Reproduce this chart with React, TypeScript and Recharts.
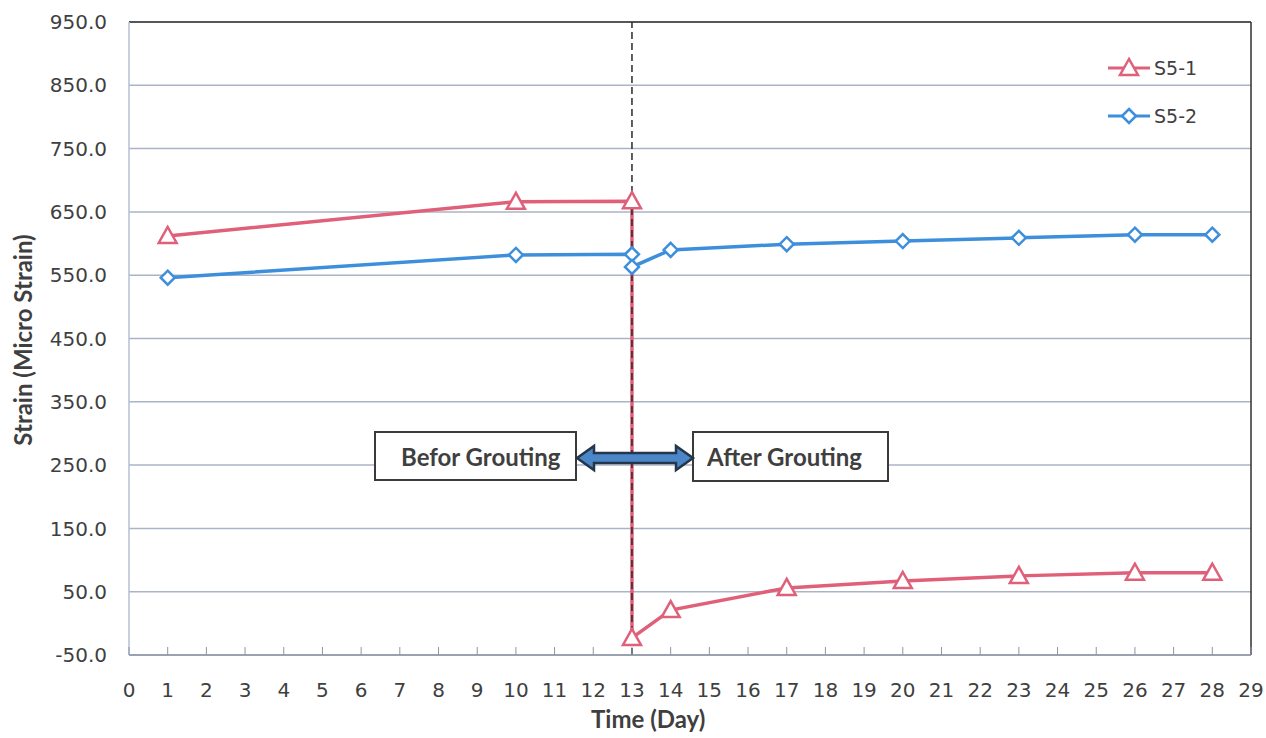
import { LineChart, Line, XAxis, YAxis, CartesianGrid, ReferenceLine } from "recharts";

const days = [1, 10, 13, 13, 14, 17, 20, 23, 26, 28];
const s51 = [612, 666, 667, -23, 21, 56, 67, 75, 80, 80];
const s52 = [546, 582, 583, 563, 590, 599, 604, 609, 614, 614];
const xTicks = Array.from({ length: 30 }, (_, i) => i);
const yTicks = [-50, 50, 150, 250, 350, 450, 550, 650, 750, 850, 950];

const data = days.map((d, i) => ({ day: d, s51: s51[i], s52: s52[i] }));

const RED = "#e0607a";
const BLUE = "#3d8fdc";
const TEXT = "#3f3f3f";
const GRID = "#aab4c6";

const Triangle = ({ cx, cy }: any) => (
  <polygon
    points={`${cx},${cy - 9} ${cx - 9},${cy + 7} ${cx + 9},${cy + 7}`}
    fill="#fff"
    stroke={RED}
    strokeWidth={2.5}
  />
);

const Diamond = ({ cx, cy }: any) => (
  <polygon
    points={`${cx},${cy - 7} ${cx + 7},${cy} ${cx},${cy + 7} ${cx - 7},${cy}`}
    fill="#fff"
    stroke={BLUE}
    strokeWidth={2.5}
  />
);

// x tick with an inward tick mark
const XTick = ({ x, y, payload }: any) => (
  <g>
    <line x1={x} x2={x} y1={y - 28} y2={y - 36} stroke="#8e96a6" strokeWidth={1} />
    <text x={x} y={y} dy="0.71em" textAnchor="middle" fill={TEXT} fontSize={20} fontFamily="DejaVu Sans">
      {payload.value}
    </text>
  </g>
);

const LegendBox = () => (
  <div style={{ position: "absolute", left: 1106, top: 44, fontFamily: "DejaVu Sans", fontSize: 19, color: TEXT }}>
    <div style={{ display: "flex", alignItems: "center", height: 48 }}>
      <svg width={46} height={22}>
        <line x1={2} x2={44} y1={11} y2={11} stroke={RED} strokeWidth={3} />
        <Triangle cx={23} cy={11} />
      </svg>
      <span style={{ marginLeft: 2 }}>S5-1</span>
    </div>
    <div style={{ display: "flex", alignItems: "center", height: 48 }}>
      <svg width={46} height={22}>
        <line x1={2} x2={44} y1={11} y2={11} stroke={BLUE} strokeWidth={3} />
        <Diamond cx={23} cy={11} />
      </svg>
      <span style={{ marginLeft: 2 }}>S5-2</span>
    </div>
  </div>
);

const boxStyle: any = {
  position: "absolute",
  border: "2px solid #3a3a3a",
  background: "#fff",
  fontFamily: "Lato",
  fontWeight: 700,
  fontSize: 24,
  color: TEXT,
  display: "flex",
  alignItems: "center",
  boxSizing: "border-box",
};

const titleStyle: any = {
  position: "absolute",
  fontFamily: "Lato",
  fontWeight: 700,
  fontSize: 24,
  color: TEXT,
  whiteSpace: "nowrap",
};

export default function App() {
  return (
    <div style={{ position: "fixed", left: 0, top: 0, width: 1266, height: 738, background: "#fff" }}>
      <LineChart width={1266} height={738} data={data} margin={{ top: 22, right: 15, left: 29, bottom: 43 }}>
        <CartesianGrid horizontal vertical={false} stroke={GRID} strokeWidth={1.5} />
        <XAxis
          dataKey="day"
          type="number"
          domain={[0, 29]}
          ticks={xTicks}
          interval={0}
          tickSize={0}
          tickMargin={28}
          tick={<XTick />}
          height={40}
          stroke="#8e96a6"
          strokeWidth={1.5}
        />
        <YAxis
          type="number"
          domain={[-50, 950]}
          ticks={yTicks}
          interval={0}
          width={100}
          tickLine={false}
          tickMargin={16}
          stroke="#b4bfd2"
          strokeWidth={1.5}
          tickFormatter={(v) => v.toFixed(1)}
          tick={{ fill: TEXT, fontSize: 20, fontFamily: "DejaVu Sans" }}
        />
        <ReferenceLine y={950} stroke="#303030" strokeWidth={1.5} />
        <ReferenceLine x={29} stroke="#303030" strokeWidth={1.5} />
        <Line
          dataKey="s51"
          stroke={RED}
          strokeWidth={3.5}
          isAnimationActive={false}
          dot={(p: any) => <Triangle key={`t${p.index}`} cx={p.cx} cy={p.cy} />}
        />
        <Line
          dataKey="s52"
          stroke={BLUE}
          strokeWidth={3.5}
          isAnimationActive={false}
          dot={(p: any) => <Diamond key={`d${p.index}`} cx={p.cx} cy={p.cy} />}
        />
        <ReferenceLine x={13} stroke="#2a2a2a" strokeWidth={1.5} strokeDasharray="7 4" />
      </LineChart>

      <LegendBox />

      <div style={{ ...titleStyle, left: 591, top: 704 }}>Time (Day)</div>
      <div
        style={{
          ...titleStyle,
          left: 22,
          top: 340,
          transform: "translate(-50%, -50%) rotate(-90deg)",
        }}
      >
        Strain (Micro Strain)
      </div>

      <div style={{ ...boxStyle, left: 374, top: 431, width: 203, height: 50, paddingLeft: 25 }}>Befor Grouting</div>
      <div style={{ ...boxStyle, left: 692, top: 431, width: 197, height: 51, paddingLeft: 13 }}>After Grouting</div>
      <svg style={{ position: "absolute", left: 574, top: 440 }} width={122} height={36}>
        <polygon
          points="3,18 20,6 20,13 102,13 102,6 119,18 102,30 102,23 20,23 20,30"
          fill="#4a86c8"
          stroke="#26364a"
          strokeWidth={2.5}
          strokeLinejoin="miter"
        />
      </svg>
    </div>
  );
}
